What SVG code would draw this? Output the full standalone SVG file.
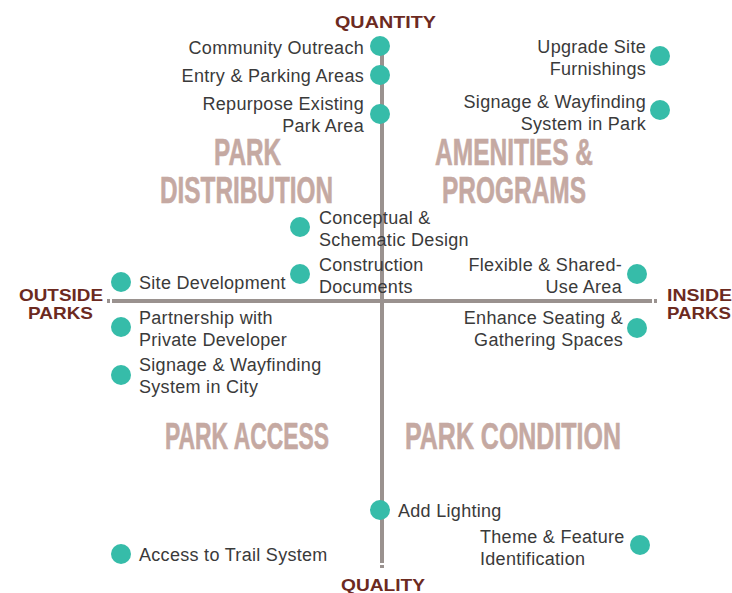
<svg xmlns="http://www.w3.org/2000/svg" width="732" height="593" viewBox="0 0 732 593">
<style>
.axis{stroke:#9a928f;stroke-width:4;fill:none}
.dot{fill:#36bca9}
.t{font-family:"Liberation Sans",Arial,sans-serif;font-size:18px;letter-spacing:0.3px;fill:#3a3a3a}
.r{text-anchor:end}
.q{font-family:"Liberation Sans",Arial,sans-serif;font-weight:bold;font-size:36px;fill:#c5a9a2;stroke:#c5a9a2;stroke-width:0.6}
.ax{font-family:"Liberation Sans",Arial,sans-serif;font-weight:bold;font-size:16.5px;fill:#6c2a1f}
</style>
<rect width="732" height="593" fill="#ffffff"/>
<g id="connectors">
<line class="axis" x1="382" y1="38" x2="382" y2="563"/>
<line class="axis" x1="382" y1="565" x2="382" y2="568"/>
<line class="axis" x1="112" y1="301" x2="652" y2="301"/>
<line class="axis" x1="107" y1="301" x2="110" y2="301"/>
<line class="axis" x1="654" y1="301" x2="657" y2="301"/>
</g>
<g id="axis-labels">
<text class="ax" x="335" y="28" textLength="101" lengthAdjust="spacingAndGlyphs">QUANTITY</text>
<text class="ax" x="341" y="591" textLength="84" lengthAdjust="spacingAndGlyphs">QUALITY</text>
<text class="ax" x="19" y="301" textLength="84" lengthAdjust="spacingAndGlyphs">OUTSIDE</text>
<text class="ax" x="28" y="319" textLength="65" lengthAdjust="spacingAndGlyphs">PARKS</text>
<text class="ax" x="667" y="301" textLength="65" lengthAdjust="spacingAndGlyphs">INSIDE</text>
<text class="ax" x="667" y="319" textLength="64" lengthAdjust="spacingAndGlyphs">PARKS</text>
</g>
<g id="quadrant-labels">
<text class="q" x="214" y="165" textLength="67" lengthAdjust="spacingAndGlyphs">PARK</text>
<text class="q" x="160" y="203" textLength="173" lengthAdjust="spacingAndGlyphs">DISTRIBUTION</text>
<text class="q" x="435" y="165" textLength="158" lengthAdjust="spacingAndGlyphs">AMENITIES &amp;</text>
<text class="q" x="442" y="203" textLength="144" lengthAdjust="spacingAndGlyphs">PROGRAMS</text>
<text class="q" x="165" y="449" textLength="164" lengthAdjust="spacingAndGlyphs">PARK ACCESS</text>
<text class="q" x="405" y="449" textLength="216" lengthAdjust="spacingAndGlyphs">PARK CONDITION</text>
</g>
<g id="community-outreach"><circle class="dot" cx="380" cy="46" r="10"/><text class="t r" x="364" y="54">Community Outreach</text></g>
<g id="entry-parking"><circle class="dot" cx="380" cy="75" r="10"/><text class="t r" x="364" y="82">Entry &amp; Parking Areas</text></g>
<g id="repurpose"><circle class="dot" cx="380" cy="114" r="10"/><text class="t r" x="364" y="110">Repurpose Existing</text><text class="t r" x="364" y="132">Park Area</text></g>
<g id="upgrade-furnishings"><circle class="dot" cx="660" cy="56" r="10"/><text class="t r" x="646" y="53">Upgrade Site</text><text class="t r" x="646" y="75">Furnishings</text></g>
<g id="signage-park"><circle class="dot" cx="660" cy="110" r="10"/><text class="t r" x="646" y="108">Signage &amp; Wayfinding</text><text class="t r" x="646" y="130">System in Park</text></g>
<g id="conceptual"><circle class="dot" cx="300" cy="227" r="10"/><text class="t" x="319" y="224">Conceptual &amp;</text><text class="t" x="319" y="246">Schematic Design</text></g>
<g id="construction"><circle class="dot" cx="300" cy="274" r="10"/><text class="t" x="319" y="271">Construction</text><text class="t" x="319" y="293">Documents</text></g>
<g id="site-development"><circle class="dot" cx="121" cy="282" r="10"/><text class="t" x="139" y="289">Site Development</text></g>
<g id="flexible"><circle class="dot" cx="637" cy="274" r="10"/><text class="t r" x="622" y="271">Flexible &amp; Shared-</text><text class="t r" x="622" y="293">Use Area</text></g>
<g id="partnership"><circle class="dot" cx="121" cy="327" r="10"/><text class="t" x="139" y="324">Partnership with</text><text class="t" x="139" y="346">Private Developer</text></g>
<g id="enhance-seating"><circle class="dot" cx="637" cy="328" r="10"/><text class="t r" x="623" y="324">Enhance Seating &amp;</text><text class="t r" x="623" y="346">Gathering Spaces</text></g>
<g id="signage-city"><circle class="dot" cx="121" cy="375" r="10"/><text class="t" x="139" y="371">Signage &amp; Wayfinding</text><text class="t" x="139" y="393">System in City</text></g>
<g id="add-lighting"><circle class="dot" cx="380" cy="510" r="10"/><text class="t" x="398" y="517">Add Lighting</text></g>
<g id="theme-feature"><circle class="dot" cx="640" cy="545" r="10"/><text class="t" x="480" y="543">Theme &amp; Feature</text><text class="t" x="480" y="565">Identification</text></g>
<g id="trail-system"><circle class="dot" cx="121" cy="554" r="10"/><text class="t" x="139" y="561">Access to Trail System</text></g>
</svg>
